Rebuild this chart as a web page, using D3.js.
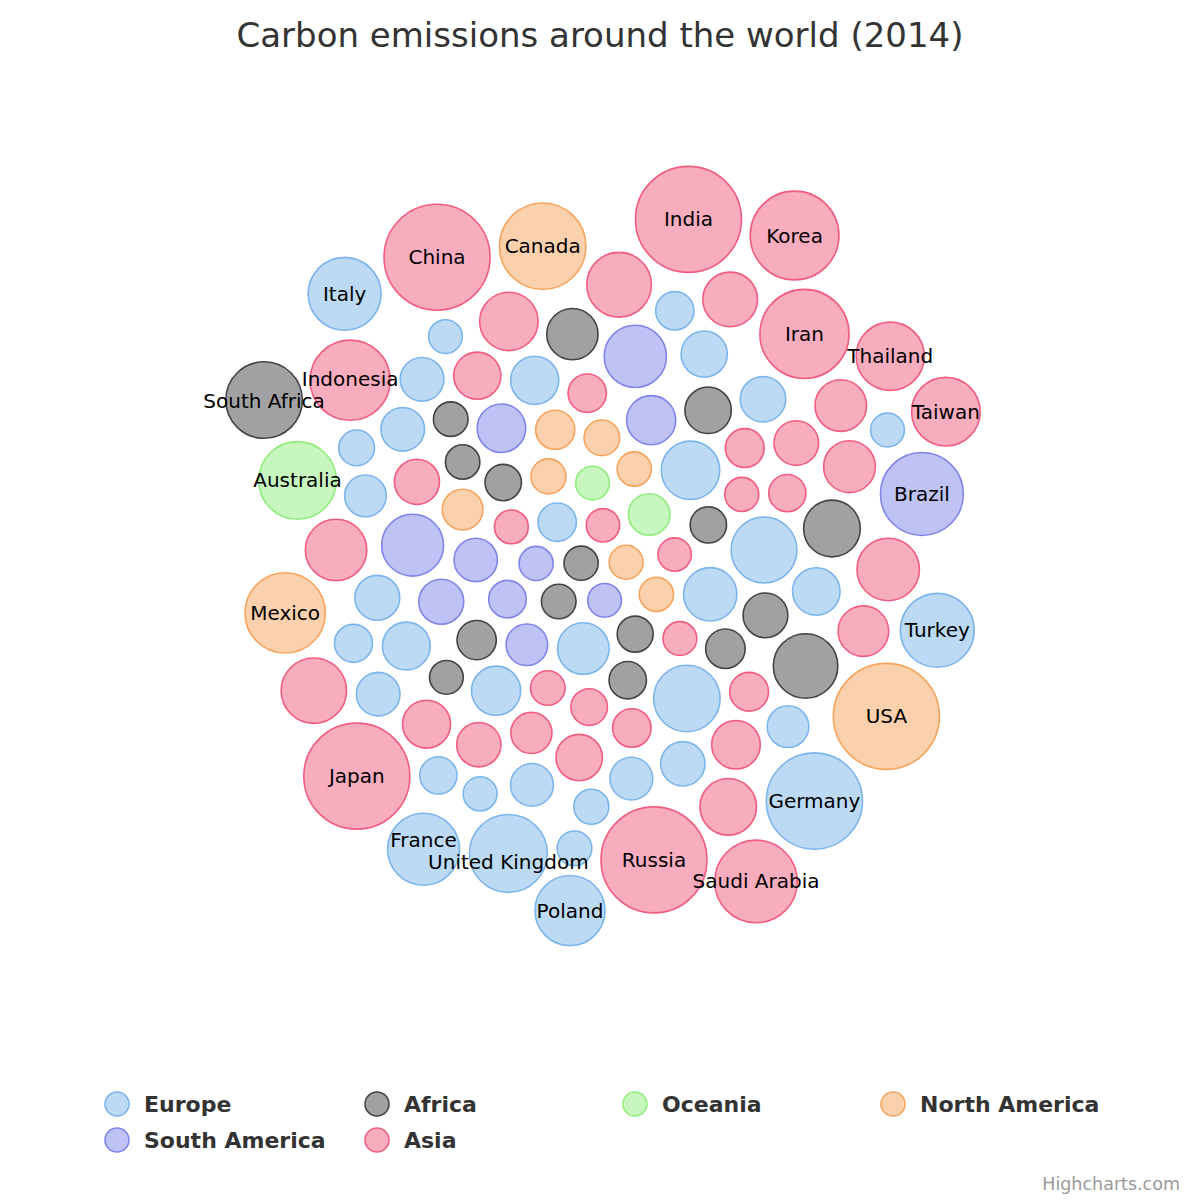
<!DOCTYPE html>
<html>
<head>
<meta charset="utf-8">
<script src="https://cdn.jsdelivr.net/npm/d3@7"></script>
<style>
  html, body { margin: 0; padding: 0; background: #fff; }
  svg { display: block; }
</style>
</head>
<body>
<svg id="chart" width="1200" height="1200"></svg>
<script>
const europe = [
  ["Germany", 767.1], ["Croatia", 20.7], ["Belgium", 97.2], ["Czech Republic", 111.7],
  ["Netherlands", 158.1], ["Spain", 241.6], ["Ukraine", 249.1], ["Poland", 298.1],
  ["France", 323.7], ["Romania", 78.3], ["United Kingdom", 415.4], ["Turkey", 353.2],
  ["Italy", 337.6], ["Greece", 71.1], ["Austria", 69.8], ["Belarus", 67.7],
  ["Serbia", 59.3], ["Finland", 54.8], ["Bulgaria", 51.2], ["Portugal", 48.3],
  ["Norway", 44.4], ["Sweden", 44.3], ["Hungary", 43.7], ["Switzerland", 40.2],
  ["Denmark", 40], ["Slovakia", 34.7], ["Ireland", 34.6], ["Croatia", 20.7],
  ["Estonia", 19.4], ["Slovenia", 16.7], ["Lithuania", 12.3], ["Luxembourg", 10.4],
  ["Macedonia", 9.5], ["Moldova", 7.8], ["Latvia", 7.5], ["Cyprus", 7.2]
];
const africa = [
  ["Senegal", 8.2], ["Cameroon", 9.2], ["Zimbabwe", 13.1], ["Ghana", 14.1],
  ["Kenya", 14.1], ["Sudan", 17.3], ["Tunisia", 24.3], ["Angola", 25],
  ["Libya", 50.6], ["Ivory Coast", 7.3], ["Morocco", 60.7], ["Ethiopia", 8.9],
  ["United Republic of Tanzania", 9.1], ["Nigeria", 93.9], ["South Africa", 392.7],
  ["Egypt", 225.1], ["Algeria", 141.5]
];
const oceania = [["Australia", 409.4], ["New Zealand", 34.1], ["Papua New Guinea", 7.1]];
const northAmerica = [
  ["Costa Rica", 7.6], ["Honduras", 8.4], ["Jamaica", 8.3], ["Panama", 10.2],
  ["Guatemala", 12], ["Dominican Republic", 23.4], ["Cuba", 30.2], ["USA", 5334.5],
  ["Canada", 566], ["Mexico", 456.3]
];
const southAmerica = [
  ["El Salvador", 7.2], ["Uruguay", 8.1], ["Bolivia", 17.8], ["Trinidad and Tobago", 34],
  ["Ecuador", 43], ["Chile", 78.6], ["Peru", 52], ["Colombia", 74.1],
  ["Brazil", 501.1], ["Argentina", 199], ["Venezuela", 195.2]
];
const asia = [
  ["Nepal", 6.5], ["Georgia", 6.5], ["Brunei Darussalam", 7.4], ["Kyrgyzstan", 7.4],
  ["Afghanistan", 7.9], ["Myanmar", 9.1], ["Mongolia", 14.7], ["Sri Lanka", 16.6],
  ["Bahrain", 20.5], ["Yemen", 22.6], ["Jordan", 22.3], ["Lebanon", 21.1],
  ["Azerbaijan", 31.7], ["Singapore", 47.8], ["Hong Kong", 49.9], ["Syria", 52.7],
  ["DPR Korea", 59.9], ["Israel", 64.8], ["Turkmenistan", 70.6], ["Oman", 74.3],
  ["Qatar", 88.8], ["Philippines", 96.9], ["Kuwait", 98.6], ["Uzbekistan", 122.6],
  ["Iraq", 139.9], ["Pakistan", 158.1], ["Vietnam", 190.2], ["United Arab Emirates", 201.1],
  ["Malaysia", 227.5], ["Kazakhstan", 236.2], ["Thailand", 272], ["Taiwan", 276.7],
  ["Indonesia", 453], ["Saudi Arabia", 494.8], ["Japan", 1278.9], ["China", 10540.8],
  ["India", 2341.9], ["Russia", 1766.4], ["Iran", 618.2], ["Korea", 610.1]
];
const seriesNames = ["Europe", "Africa", "Oceania", "North America", "South America", "Asia"];
const seriesData = [europe, africa, oceania, northAmerica, southAmerica, asia];
const seriesColors = ["#7cb5ec", "#434348", "#90ed7d", "#f7a35c", "#8085e9", "#f15c80"];
const labelThreshold = 250;
const zExtent = [0, 1000];

const svg = d3.select("#chart");
const FONT = "'DejaVu Sans', Verdana, sans-serif";

svg.append("text")
  .attr("x", 600).attr("y", 47)
  .attr("text-anchor", "middle")
  .style("font-family", FONT)
  .style("font-size", "34px")
  .style("fill", "#333333")
  .text("Carbon emissions around the world (2014)");

const rScale = d3.scaleSqrt().domain(zExtent).range([13.5, 53]).clamp(true);
const color = d3.scaleOrdinal().domain(seriesNames).range(seriesColors);

const perSeries = seriesData.map((arr, si) =>
  arr.map(([name, value]) => ({ name, value, series: seriesNames[si], r: rScale(value) })));

// order: unlabelled bubbles interleaved across series, then the large labelled ones (largest first)
const small = [], big = [];
const maxLen = d3.max(perSeries, a => a.length);
for (let i = 0; i < maxLen; i++) {
  perSeries.forEach(a => {
    if (i < a.length) (a[i].value > labelThreshold ? big : small).push(a[i]);
  });
}
big.sort((a, b) => d3.descending(a.value, b.value));
const nodes = small.concat(big);

const PAD = 5;
const packed = nodes.map(d => ({ r: d.r + PAD }));
d3.packSiblings(packed);
nodes.forEach((d, i) => { d.x = packed[i].x; d.y = packed[i].y; });

const cx = 603, cy = 556;
const sim = d3.forceSimulation(nodes)
  .force("x", d3.forceX(0).strength(0.015))
  .force("y", d3.forceY(0).strength(0.015))
  .force("collide", d3.forceCollide(d => d.r + PAD).strength(1).iterations(6))
  .velocityDecay(0.5)
  .stop();
for (let i = 0; i < 300; i++) sim.tick();

const x0 = d3.min(nodes, d => d.x - d.r), x1 = d3.max(nodes, d => d.x + d.r);
const y0 = d3.min(nodes, d => d.y - d.r), y1 = d3.max(nodes, d => d.y + d.r);
const dx = cx - (x0 + x1) / 2, dy = cy - (y0 + y1) / 2;
nodes.forEach(d => { d.x += dx; d.y += dy; });

const gBubbles = svg.append("g");
seriesNames.forEach(s => {
  gBubbles.append("g")
    .selectAll("circle")
    .data(nodes.filter(d => d.series === s))
    .join("circle")
    .attr("cx", d => d.x)
    .attr("cy", d => d.y)
    .attr("r", d => d.r)
    .attr("fill", color(s))
    .attr("fill-opacity", 0.5)
    .attr("stroke", color(s))
    .attr("stroke-width", 1.6);
});

const labelNodes = nodes.filter(d => d.value > labelThreshold);
const labels = svg.append("g")
  .selectAll("text")
  .data(labelNodes)
  .join("text")
  .attr("x", d => d.x)
  .attr("y", d => d.y)
  .attr("dy", "0.35em")
  .attr("text-anchor", "middle")
  .style("font-family", FONT)
  .style("font-size", "20px")
  .style("fill", "#000")
  .text(d => d.name);

// nudge overlapping labels apart vertically
labels.each(function (d) { d.lw = this.getComputedTextLength(); d.ly = d.y; });
const LH = 22;
for (let it = 0; it < 50; it++) {
  let moved = false;
  for (let i = 0; i < labelNodes.length; i++) {
    for (let j = i + 1; j < labelNodes.length; j++) {
      const a = labelNodes[i], b = labelNodes[j];
      const ox = (a.lw + b.lw) / 2 + 4 - Math.abs(a.x - b.x);
      const oy = LH - Math.abs(a.ly - b.ly);
      if (ox > 0 && oy > 0) {
        const s = a.ly <= b.ly ? -1 : 1;
        a.ly += s * oy / 2; b.ly -= s * oy / 2; moved = true;
      }
    }
  }
  if (!moved) break;
}
labels.attr("y", d => d.ly);

const legendCols = [117, 377, 635, 893];
const legendRows = [1104, 1140];
const legend = svg.append("g")
  .selectAll("g")
  .data(seriesNames)
  .join("g")
  .attr("transform", (d, i) => `translate(${legendCols[i % 4]},${legendRows[Math.floor(i / 4)]})`);
legend.append("circle")
  .attr("r", 12)
  .attr("fill", d => color(d))
  .attr("fill-opacity", 0.5)
  .attr("stroke", d => color(d))
  .attr("stroke-width", 1.6);
legend.append("text")
  .attr("x", 27)
  .attr("dy", "0.35em")
  .style("font-family", FONT)
  .style("font-size", "22px")
  .style("font-weight", "bold")
  .style("fill", "#333333")
  .text(d => d);

svg.append("text")
  .attr("x", 1180).attr("y", 1190)
  .attr("text-anchor", "end")
  .style("font-family", FONT)
  .style("font-size", "17.5px")
  .style("fill", "#999999")
  .text("Highcharts.com");
</script>
</body>
</html>
